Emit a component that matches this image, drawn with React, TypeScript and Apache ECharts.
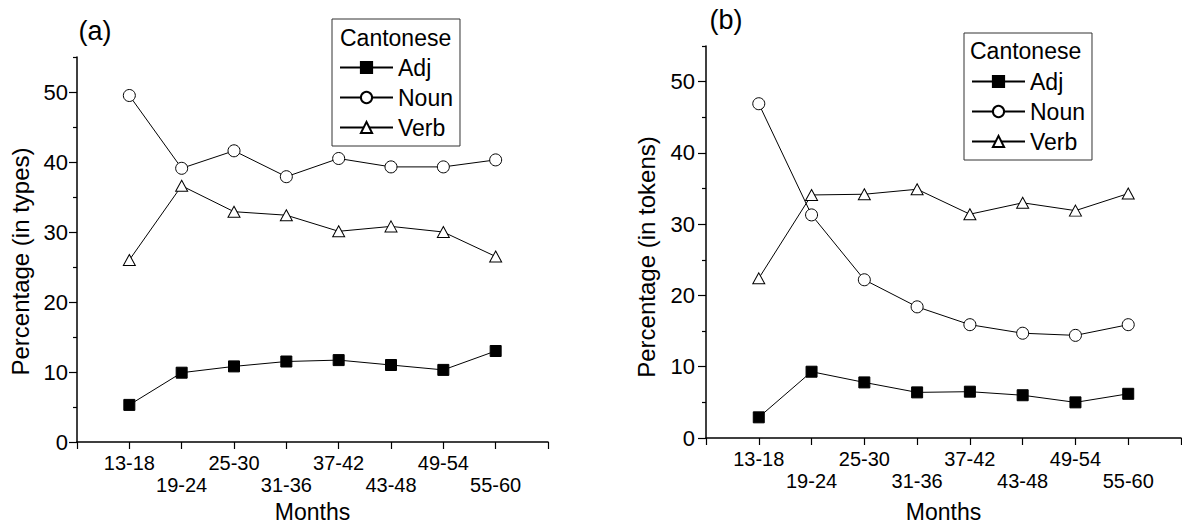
import React, { useEffect, useRef } from 'react';
import * as echarts from 'echarts';

const months = ['13-18', '19-24', '25-30', '31-36', '37-42', '43-48', '49-54', '55-60'];
const seriesNames = ['Adj', 'Noun', 'Verb'];
const typesAdj = [5.3, 9.9, 10.8, 11.5, 11.7, 11.0, 10.3, 13.0];
const typesNoun = [49.5, 39.1, 41.6, 37.9, 40.5, 39.3, 39.3, 40.3];
const typesVerb = [26.0, 36.6, 32.9, 32.4, 30.1, 30.8, 30.0, 26.5];
const tokensAdj = [2.9, 9.3, 7.8, 6.4, 6.5, 6.0, 5.0, 6.2];
const tokensNoun = [46.9, 31.3, 22.2, 18.4, 15.9, 14.7, 14.4, 15.9];
const tokensVerb = [22.4, 34.1, 34.2, 34.9, 31.4, 33.0, 31.9, 34.3];
const yMajorTicks = [0, 10, 20, 30, 40, 50];
const yMinorTicks = [5, 15, 25, 35, 45, 55];
const xLabelPositions = [1, 2, 3, 4, 5, 6, 7, 8];
const panelTitles = ['(a)', '(b)'];
const yNames = ['Percentage (in types)', 'Percentage (in tokens)'];
const legendTitle = 'Cantonese';

const FONT = '"Liberation Sans", Arial, Helvetica, sans-serif';

export default function App() {
  const ref = useRef<HTMLDivElement>(null);
  useEffect(() => {
    if (!ref.current) return;
    const chart = echarts.init(ref.current, undefined, { renderer: 'svg' });

    const panels = [
      { data: [typesAdj, typesNoun, typesVerb], grid: { left: 77, top: 57, width: 471, height: 385 }, yNameGap: 45, yNameShift: 24, xNameGap: 58, yLabelMargin: 9, legend: { left: 332, top: 19 }, cant: { x: 340, y: 38 }, title: { x: 95, y: 31 } },
      { data: [tokensAdj, tokensNoun, tokensVerb], grid: { left: 706, top: 46, width: 475, height: 392 }, yNameGap: 48, yNameShift: 30, xNameGap: 62, yLabelMargin: 11, legend: { left: 964, top: 33 }, cant: { x: 970, y: 51 }, title: { x: 726, y: 20 } },
    ];

    const symbols = [
      { symbol: 'rect', symbolSize: 11, itemStyle: { color: '#000', borderColor: '#000', borderWidth: 1 } },
      { symbol: 'circle', symbolSize: 12, itemStyle: { color: '#fff', borderColor: '#000', borderWidth: 1 } },
      { symbol: 'triangle', symbolSize: [12, 11], itemStyle: { color: '#fff', borderColor: '#000', borderWidth: 1 } },
    ];

    const axisLineStyle = { color: '#000', width: 1.5 };
    const tickStyle = { color: '#000', width: 1.2 };
    const grid: any[] = [];
    const xAxis: any[] = [];
    const yAxis: any[] = [];
    const series: any[] = [];
    const legend: any[] = [];
    const graphic: any[] = [];

    panels.forEach((p, pi) => {
      grid.push({ ...p.grid, containLabel: false, outerBoundsMode: 'none' });
      xAxis.push({
        gridIndex: pi,
        type: 'value',
        min: 0,
        max: 9,
        interval: 1,
        axisLine: { show: true, onZero: false, lineStyle: axisLineStyle },
        axisTick: { show: true, length: 7, lineStyle: tickStyle },
        splitLine: { show: false },
        axisLabel: {
          customValues: xLabelPositions,
          margin: 10,
          fontSize: 20,
          lineHeight: 22,
          fontFamily: FONT,
          color: '#000',
          formatter: (v: number) => {
            const i = Math.round(v) - 1;
            if (i < 0 || i >= months.length) return '';
            return i % 2 === 0 ? months[i] : '\n' + months[i];
          },
        },
        name: 'Months',
        nameLocation: 'middle',
        nameGap: p.xNameGap,
        nameTextStyle: { fontSize: 23, fontFamily: FONT, color: '#000' },
      });
      // main y axis: line + minor ticks
      yAxis.push({
        gridIndex: pi,
        type: 'value',
        min: 0,
        max: 55,
        interval: 5,
        position: 'left',
        offset: 0,
        axisLine: { show: true, onZero: false, lineStyle: axisLineStyle },
        axisTick: { show: true, length: 4, customValues: yMinorTicks, lineStyle: tickStyle },
        axisLabel: { show: false },
        splitLine: { show: false },
      });
      // label y axis: major ticks + labels + name
      yAxis.push({
        gridIndex: pi,
        type: 'value',
        min: 0,
        max: 55,
        interval: 10,
        position: 'left',
        offset: 0,
        axisLine: { show: false },
        axisTick: { show: true, length: 8, customValues: yMajorTicks, lineStyle: tickStyle },
        axisLabel: {
          customValues: yMajorTicks,
          margin: p.yLabelMargin,
          fontSize: 22,
          fontFamily: FONT,
          color: '#000',
        },
        splitLine: { show: false },
        name: yNames[pi],
        nameLocation: 'middle',
        nameGap: p.yNameGap,
        nameRotate: 90,
        nameTextStyle: { fontSize: 24, fontFamily: FONT, color: '#000', padding: [0, p.yNameShift, 0, 0] },
      });
      p.data.forEach((vals, si) => {
        series.push({
          type: 'line',
          name: seriesNames[si],
          xAxisIndex: pi,
          yAxisIndex: pi * 2,
          data: vals.map((v, i) => [xLabelPositions[i], v]),
          ...symbols[si],
          showAllSymbol: true,
          lineStyle: { color: '#000', width: 1 },
          emphasis: { disabled: true },
        });
      });
      legend.push({
        data: seriesNames,
        orient: 'vertical',
        left: p.legend.left,
        top: p.legend.top,
        padding: [37, 7, 7, 7],
        itemWidth: 53,
        itemHeight: 14,
        itemGap: 7,
        borderColor: '#333',
        borderWidth: 1,
        selectedMode: false,
        textStyle: { fontSize: 23, lineHeight: 22, fontFamily: FONT, color: '#000' },
      });
      graphic.push({
        type: 'text',
        x: p.cant.x,
        y: p.cant.y,
        z: 100,
        style: { text: legendTitle, fontSize: 23, fontFamily: FONT, fill: '#000', textAlign: 'left', textVerticalAlign: 'middle', align: 'left', verticalAlign: 'middle' },
      });
      graphic.push({
        type: 'text',
        x: p.title.x,
        y: p.title.y,
        style: { text: panelTitles[pi], fontSize: 27, fontFamily: FONT, fill: '#000', textAlign: 'center', textVerticalAlign: 'middle', align: 'center', verticalAlign: 'middle' },
      });
    });

    chart.setOption({
      animation: false,
      backgroundColor: '#fff',
      textStyle: { fontFamily: FONT },
      grid,
      xAxis,
      yAxis,
      series,
      legend,
      graphic,
      tooltip: { show: false },
    });
    return () => chart.dispose();
  }, []);

  return <div ref={ref} style={{ position: 'absolute', left: 0, top: 0, width: 1182, height: 525 }} />;
}
